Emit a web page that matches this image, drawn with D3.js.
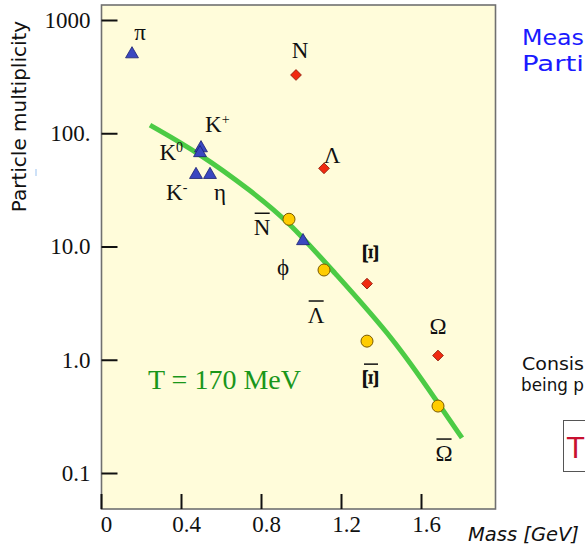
<!DOCTYPE html>
<html><head><meta charset="utf-8">
<script src="https://cdn.jsdelivr.net/npm/d3@7"></script>
<style>body{margin:0;background:#fff}</style>
</head><body>
<svg id="c" width="585" height="548"></svg>
<script>
// ---------- data ----------
const mesonNames = ["pi", "K+", "K0", "K-", "eta", "phi"];
const mesonMass  = [0.155, 0.50, 0.495, 0.475, 0.545, 1.01];
const mesonMult  = [500, 74, 67, 43, 43, 11.2];

const baryonNames = ["N", "Lambda", "Xi", "Omega"];
const baryonMass  = [0.975, 1.115, 1.33, 1.685];
const baryonMult  = [327, 49, 4.7, 1.09];

const antiNames = ["Nbar", "Lambdabar", "Xibar", "Omegabar"];
const antiMass  = [0.94, 1.115, 1.33, 1.685];
const antiMult  = [17.4, 6.2, 1.46, 0.39];

const fitMass = [0.245, 0.495, 0.75, 0.94, 1.155, 1.47, 1.695, 1.805];
const fitMult = [118, 66, 31, 16.5, 6.2, 1.5, 0.39, 0.204];

const xTicks = [0, 0.4, 0.8, 1.2, 1.6];
const xTickLabels = ["0", "0.4", "0.8", "1.2", "1.6"];
const yTicks = [0.1, 1, 10, 100, 1000];
const yTickLabels = ["0.1", "1.0", "10.0", "100.", "1000"];

// ---------- layout ----------
const svg = d3.select("#c");
const frame = {left: 101.5, right: 495.5, top: 5, bottom: 509};
const x = d3.scaleLinear().domain([0, 1.6]).range([101, 421]);
const y = d3.scaleLog().domain([0.1, 1000]).range([473, 20]);
const serif = "'Liberation Serif', 'Times New Roman', serif";
const sans = "'DejaVu Sans', sans-serif";

// plot background / frame
svg.append("rect")
  .attr("x", frame.left).attr("y", frame.top)
  .attr("width", frame.right - frame.left).attr("height", frame.bottom - frame.top)
  .attr("fill", "#fffcda").attr("stroke", "#707070").attr("stroke-width", 1.6);

// axes
const yAxis = svg.append("g").attr("transform", `translate(${frame.left},0)`)
  .call(d3.axisLeft(y).tickValues(yTicks).tickFormat((d, i) => yTickLabels[i])
        .tickSize(-16).tickPadding(11));
yAxis.select(".domain").remove();
yAxis.selectAll("line").attr("stroke", "#111").attr("stroke-width", 2);
yAxis.selectAll("text").attr("font-family", serif).attr("font-size", 23).attr("fill", "#111");

const xAxis = svg.append("g").attr("transform", `translate(0,${frame.bottom})`)
  .call(d3.axisBottom(x).tickValues(xTicks).tickFormat((d, i) => xTickLabels[i])
        .tickSize(-15).tickPadding(7));
xAxis.select(".domain").remove();
xAxis.selectAll("line").attr("stroke", "#111").attr("stroke-width", 2);
xAxis.selectAll("text").attr("font-family", serif).attr("font-size", 23).attr("fill", "#111").attr("dx", 5);

// axis titles
svg.append("text").attr("transform", "translate(26,116.5) rotate(-90)")
  .attr("text-anchor", "middle").attr("font-family", sans).attr("font-size", 20)
  .attr("fill", "#111").text("Particle multiplicity");
svg.append("text").attr("x", 468).attr("y", 541)
  .attr("font-family", sans).attr("font-style", "italic").attr("font-size", 19.5)
  .attr("fill", "#111").text("Mass [GeV]");
svg.append("line").attr("x1", 36).attr("x2", 36).attr("y1", 169).attr("y2", 176)
  .attr("stroke", "#9cc3f0").attr("stroke-width", 1);

// thermal fit curve
const fit = fitMass.map((m, i) => [m, fitMult[i]]);
svg.append("path").datum(fit)
  .attr("d", d3.line().x(d => x(d[0])).y(d => y(d[1])).curve(d3.curveBasis))
  .attr("fill", "none").attr("stroke", "#4ccb45").attr("stroke-width", 5)
  .attr("stroke-linecap", "butt");

// markers
const mesons = mesonNames.map((n, i) => ({n, m: mesonMass[i], v: mesonMult[i]}));
const baryons = baryonNames.map((n, i) => ({n, m: baryonMass[i], v: baryonMult[i]}));
const antis = antiNames.map((n, i) => ({n, m: antiMass[i], v: antiMult[i]}));

svg.append("g").selectAll("path").data(mesons).join("path")
  .attr("transform", d => `translate(${x(d.m)},${y(d.v)})`)
  .attr("d", d3.symbol(d3.symbolTriangle, 72))
  .attr("fill", "#3a47c0").attr("stroke", "#1b2070").attr("stroke-width", 0.8);

svg.append("g").selectAll("path").data(baryons).join("path")
  .attr("transform", d => `translate(${x(d.m)},${y(d.v)}) rotate(45)`)
  .attr("d", d3.symbol(d3.symbolSquare, 58))
  .attr("fill", "#f02a10").attr("stroke", "#8a1a08").attr("stroke-width", 0.8);

svg.append("g").selectAll("circle").data(antis).join("circle")
  .attr("cx", d => x(d.m)).attr("cy", d => y(d.v)).attr("r", 6)
  .attr("fill", "#ffcc00").attr("stroke", "#7a5a00").attr("stroke-width", 1);

// particle labels (offsets in px relative to marker)
const labelStyle = {
  "pi":        {t: "π", dx: 8,   dy: -14, a: "middle"},
  "K+":        {t: "K", sup: "+", dx: 4, dy: -16, a: "start"},
  "K0":        {t: "K", sup: "0", dx: -17, dy: 7, a: "end"},
  "K-":        {t: "K", sup: "-", dx: -30, dy: 25, a: "start"},
  "eta":       {t: "η", dx: 10,  dy: 25, a: "middle"},
  "phi":       {t: "ϕ", dx: -20, dy: 34, a: "middle"},
  "N":         {t: "N", dx: 4,   dy: -17, a: "middle"},
  "Lambda":    {t: "Λ", dx: 8,   dy: -5, a: "middle"},
  "Xi":        {t: "Ξ", dx: 4,   dy: -30, a: "middle", rot: true},
  "Omega":     {t: "Ω", dx: 0,   dy: -22, a: "middle"},
  "Nbar":      {t: "N", dx: -27, dy: 16, a: "middle", bar: true},
  "Lambdabar": {t: "Λ", dx: -8,  dy: 53, a: "middle", bar: true},
  "Xibar":     {t: "Ξ", dx: 4,   dy: 38, a: "middle", rot: true, bar: true},
  "Omegabar":  {t: "Ω", dx: 6,   dy: 55, a: "middle", bar: true}
};
const labG = svg.append("g").attr("font-family", serif).attr("font-size", 23).attr("fill", "#111");
[...mesons, ...baryons, ...antis].forEach(d => {
  const s = labelStyle[d.n];
  const px = x(d.m) + s.dx, py = y(d.v) + s.dy;
  if (s.rot) {
    labG.append("text").attr("transform", `translate(${px},${py}) rotate(90) scale(1.3,1)`)
      .attr("text-anchor", "middle").attr("dy", "0.33em").attr("font-size", 24)
      .attr("font-weight", "bold").text(s.t);
    if (s.bar) {
      labG.append("line").attr("x1", px - 7).attr("x2", px + 7)
        .attr("y1", py - 15).attr("y2", py - 15).attr("stroke", "#111").attr("stroke-width", 1.5);
    }
    return;
  }
  const t = labG.append("text").attr("x", px).attr("y", py).attr("text-anchor", s.a).text(s.t);
  if (s.sup) {
    t.append("tspan").attr("dy", -8).attr("font-size", 14).text(s.sup);
  }
  if (s.bar) {
    const bb = t.node().getBBox();
    labG.append("line").attr("x1", bb.x + 1).attr("x2", bb.x + bb.width - 1)
      .attr("y1", py - 22).attr("y2", py - 22).attr("stroke", "#111").attr("stroke-width", 1.5);
  }
});

// temperature annotation
svg.append("text").attr("x", x(0.235)).attr("y", y(0.55))
  .attr("font-family", serif).attr("font-size", 28).attr("fill", "#1a961a")
  .text("T = 170 MeV");

// slide text at right (cut off by window edge in the original)
const side = svg.append("g").attr("font-family", sans);
side.append("text").attr("x", 522).attr("y", 45).attr("font-size", 22).attr("fill", "#1a1aff")
  .attr("textLength", 62).attr("lengthAdjust", "spacingAndGlyphs").text("Meas");
side.append("text").attr("x", 522).attr("y", 71).attr("font-size", 22).attr("fill", "#1a1aff")
  .attr("textLength", 62).attr("lengthAdjust", "spacingAndGlyphs").text("Parti");
side.append("text").attr("x", 522).attr("y", 370).attr("font-size", 18).attr("fill", "#111")
  .attr("textLength", 62).attr("lengthAdjust", "spacingAndGlyphs").text("Consis");
side.append("text").attr("x", 521).attr("y", 391).attr("font-size", 16.8).attr("fill", "#111")
  .text("being p");
side.append("rect").attr("x", 563.5).attr("y", 420.5).attr("width", 40).attr("height", 51)
  .attr("fill", "#fff").attr("stroke", "#555").attr("stroke-width", 1);
side.append("text").attr("x", 567).attr("y", 458).attr("font-size", 28).attr("fill", "#c81030").text("T");
</script>
</body></html>
